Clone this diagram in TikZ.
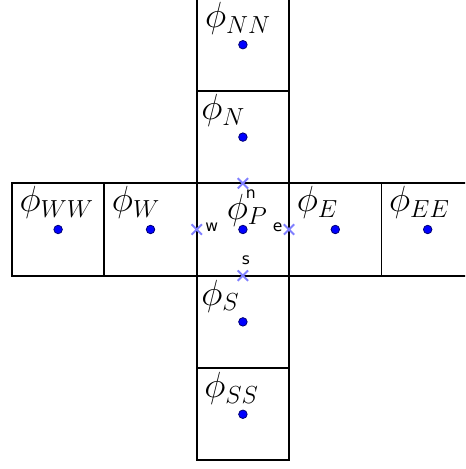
\RequirePackage{fix-cm}
\documentclass[tikz,border=0pt]{standalone}
\usepackage{fontspec}
\newfontfamily\facefont{DejaVu Sans}
\usepackage{tikz}
\usetikzlibrary{positioning, shapes.misc}
\DeclareMathSizes{28}{28}{19}{14}

\begin{document}
\begin{tikzpicture}[
    node distance=0pt,
    cell/.style={draw, line width=1.5pt, minimum size=2.5cm, inner sep=0pt, outer sep=0pt},
    dot/.style={circle, fill=blue, draw=blue!45!black, line width=0.6pt, minimum size=0.23cm, inner sep=0pt},
    lbl/.style={anchor=base west, inner sep=0pt, font=\fontsize{28}{34}\selectfont},
    face/.style={cross out, draw=blue!50, line width=1.5pt, minimum size=0.28cm, inner sep=0pt, outer sep=0pt},
    facetxt/.style={inner sep=0pt, font=\facefont\fontsize{12}{14}\selectfont}
]
\useasboundingbox (-6.573,-6.481) rectangle (6.010,6.210);
\clip (-6.573,-6.481) rectangle (6.010,6.210);

% control volumes
\node[cell] (P) {};
\node[cell, left=of P] (W) {};
\node[cell, left=of W] (WW) {};
\node[cell, right=of P] (E) {};
\node[cell, right=of E] (EE) {};
\node[cell, above=of P] (N) {};
\node[cell, above=of N] (NN) {};
\node[cell, below=of P] (S) {};
\node[cell, below=of S] (SS) {};

% nodal values
\node[lbl] (tP) at ([shift={(0.81,-0.98)}]P.north west) {$\phi_P$};
\node[lbl] (tW) at ([shift={(0.2,-0.77)}]W.north west) {$\phi_W$};
\node[lbl] (tWW) at ([shift={(0.2,-0.77)}]WW.north west) {$\phi_{WW}$};
\node[lbl] (tE) at ([shift={(0.2,-0.77)}]E.north west) {$\phi_E$};
\node[lbl] (tEE) at ([shift={(0.2,-0.77)}]EE.north west) {$\phi_{EE}$};
\node[lbl] (tN) at ([shift={(0.12,-0.78)}]N.north west) {$\phi_N$};
\node[lbl] (tNN) at ([shift={(0.22,-0.79)}]NN.north west) {$\phi_{NN}$};
\node[lbl] (tS) at ([shift={(0.12,-0.8)}]S.north west) {$\phi_S$};
\node[lbl] (tSS) at ([shift={(0.2,-0.8)}]SS.north west) {$\phi_{SS}$};

\node[dot] (dP) at (P) {};
\node[dot] (dW) at (W) {};
\node[dot] (dWW) at (WW) {};
\node[dot] (dE) at (E) {};
\node[dot] (dEE) at (EE) {};
\node[dot] (dN) at (N) {};
\node[dot] (dNN) at (NN) {};
\node[dot] (dS) at (S) {};
\node[dot] (dSS) at (SS) {};

% faces of P
\node[face] (fn) at (P.north) {};
\node[face] (fs) at (P.south) {};
\node[face] (fw) at (P.west) {};
\node[face] (fe) at (P.east) {};
\node[facetxt, below right=0.2mm and -0.65mm of fn] (ln) {n};
\node[facetxt, above=1.5mm of fs, xshift=0.8mm] (ls) {s};
\node[facetxt, right=0.9mm of fw, yshift=0.7mm] (lw) {w};
\node[facetxt, left=0.3mm of fe, yshift=0.7mm] (le) {e};

\end{tikzpicture}
\end{document}
